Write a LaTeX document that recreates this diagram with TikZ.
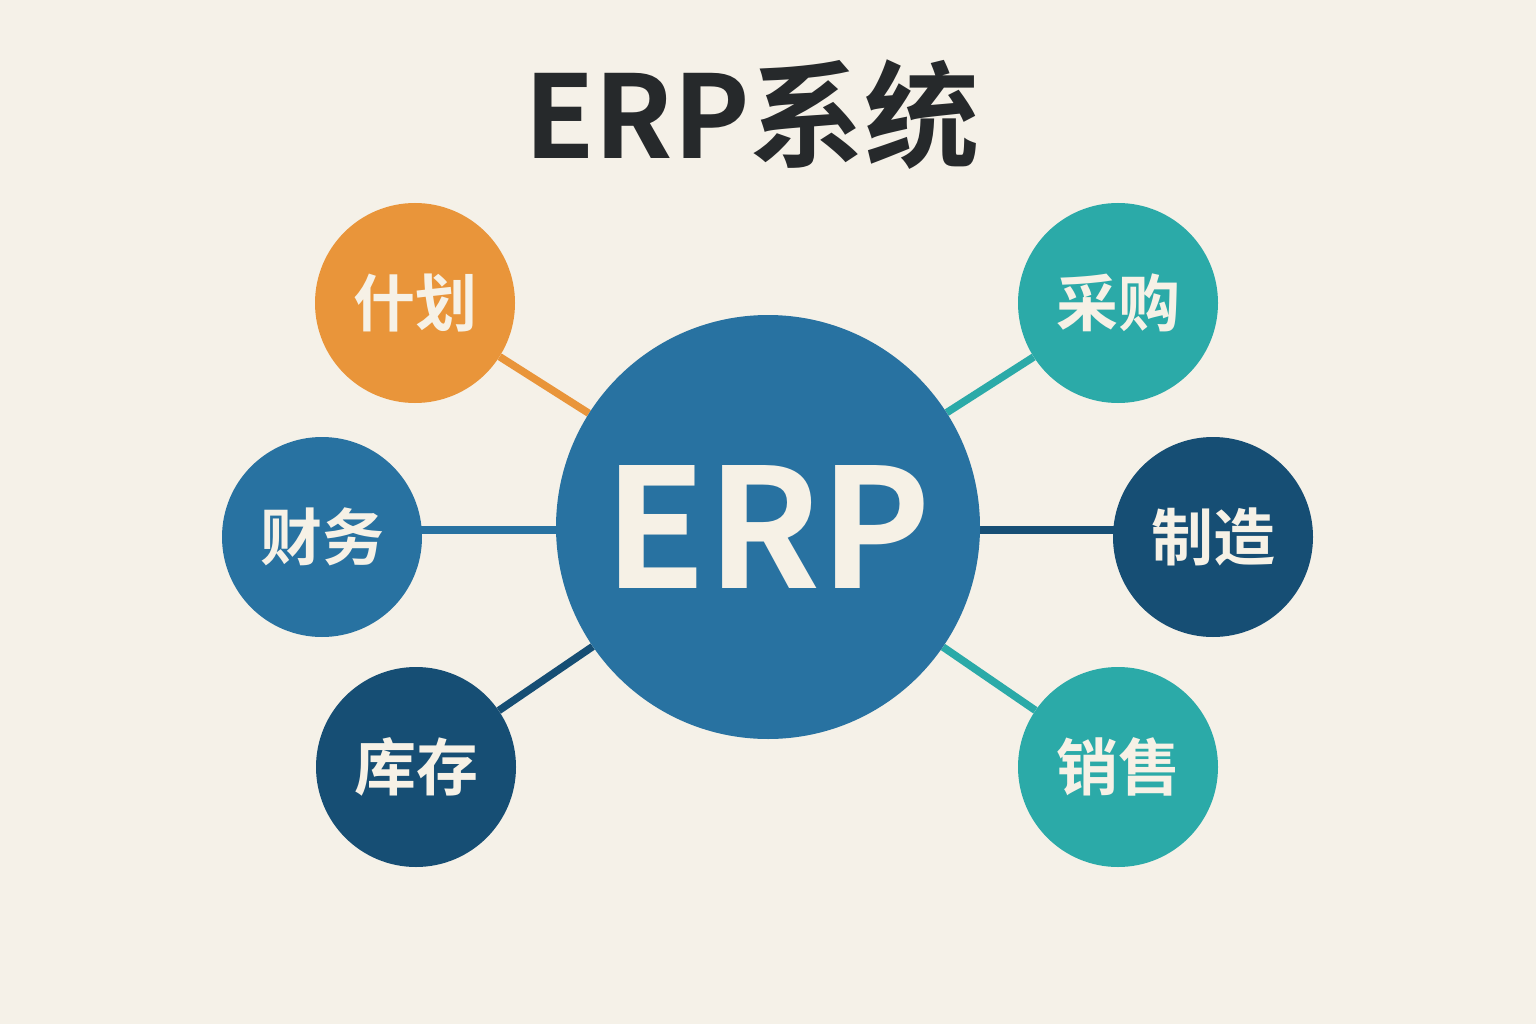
\documentclass[tikz,border=0pt]{standalone}
\usepackage{fontspec}
\newfontfamily\cjk{Noto Sans CJK SC}[BoldFont={Noto Sans CJK SC Bold}]
\definecolor{bgc}{HTML}{F5F1E8}
\definecolor{erpblue}{HTML}{2872A1}
\definecolor{navy}{HTML}{164E74}
\definecolor{teal}{HTML}{2BAAA8}
\definecolor{orange}{HTML}{E9953A}
\definecolor{txt}{HTML}{F6F1E6}
\definecolor{title}{HTML}{26292B}
\pgfdeclarelayer{bottom}
\pgfdeclarelayer{links}
\pgfsetlayers{bottom,links,main}
\tikzset{
  sat/.style={circle, minimum size=200pt, inner sep=0pt, fill=#1, text=txt,
    font=\cjk\bfseries\fontsize{62}{62}\selectfont},
  hub/.style={circle, minimum size=424pt, inner sep=0pt, fill=erpblue, text=txt,
    font=\cjk\bfseries\fontsize{166}{166}\selectfont},
  link/.style={draw=#1, line width=7.5pt},
  ttl/.style={text=title, font=\cjk\bfseries\fontsize{115}{115}\selectfont}
}
\begin{document}
\begin{tikzpicture}[x=1pt,y=-1pt]
\begin{pgfonlayer}{bottom}
\fill[bgc] (0,0) rectangle (1536,1024);
\end{pgfonlayer}
\useasboundingbox (0,0) rectangle (1536,1024);
\node[ttl] (title) at (752,115) {ERP系统};
\node[hub] (erp) at (768,527) {ERP};
\node[sat=orange] (plan) at (415,303) {什划};
\node[sat=erpblue] (fin) at (322,537) {财务};
\node[sat=navy] (inv) at (416,767) {库存};
\node[sat=teal] (pur) at (1118,303) {采购};
\node[sat=navy] (mfg) at (1213,537) {制造};
\node[sat=teal] (sal) at (1118,767) {销售};
\begin{pgfonlayer}{links}
\draw[link=orange] (plan) -- (erp);
\draw[link=erpblue] ([yshift=7pt]fin.center) -- ([yshift=-3pt]erp.center);
\draw[link=navy] (inv) -- (erp);
\draw[link=teal] (pur) -- (erp);
\draw[link=navy] ([yshift=7pt]mfg.center) -- ([yshift=-3pt]erp.center);
\draw[link=teal] (sal) -- (erp);
\end{pgfonlayer}
\end{tikzpicture}
\end{document}
